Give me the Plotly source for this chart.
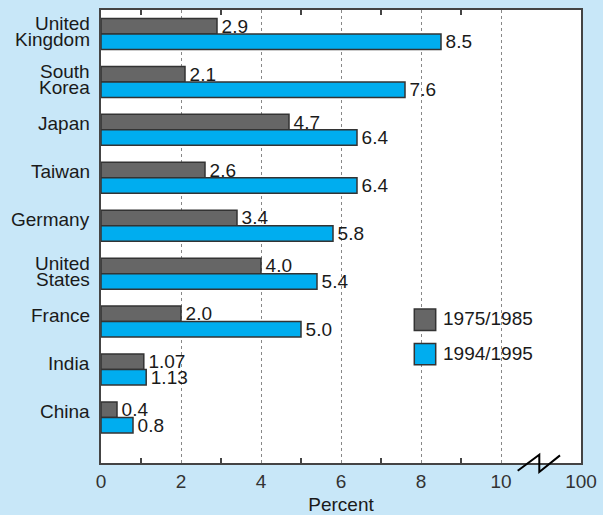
import plotly.graph_objects as go

countries = ["United<br>Kingdom", "South<br>Korea", "Japan", "Taiwan", "Germany",
             "United<br>States", "France", "India", "China"]
period_1975_1985 = [2.9, 2.1, 4.7, 2.6, 3.4, 4.0, 2.0, 1.07, 0.4]
period_1994_1995 = [8.5, 7.6, 6.4, 6.4, 5.8, 5.4, 5.0, 1.13, 0.8]
series_names = ["1975/1985", "1994/1995"]
x_tick_vals = [0, 2, 4, 6, 8, 10, 12]
x_tick_text = ["0", "2", "4", "6", "8", "10", "100"]

FONT = "Liberation Sans, Arial, Helvetica, sans-serif"
FS = 19
TXT = "#1a1a1a"
GRAY = "#666666"
BLUE = "#00adef"
EDGE = "#333333"
BG = "#c8e7f8"


def fmt(v):
    s = f"{v:.1f}" if round(v, 1) == v else f"{v:.2f}"
    return "\u200a" + s


pos = list(range(len(countries)))

fig = go.Figure()
for name, vals, col in [(series_names[0], period_1975_1985, GRAY),
                        (series_names[1], period_1994_1995, BLUE)]:
    fig.add_trace(go.Bar(
        y=pos, x=vals, orientation="h", name=name,
        marker=dict(color=col, line=dict(color=EDGE, width=1.5)),
        text=[fmt(v) for v in vals], textposition="outside",
        constraintext="none", cliponaxis=False,
        textfont=dict(family=FONT, size=FS, color=TXT),
        showlegend=False, hoverinfo="skip",
    ))

annotations = []
# category labels (two-line labels split into individual lines for tight spacing)
for i, lab in enumerate(countries):
    lines = lab.split("<br>")
    if len(lines) == 1:
        shifts = [6]
    else:
        shifts = [10, -6]
    for ln, sh in zip(lines, shifts):
        annotations.append(dict(
            x=0, xref="paper", xanchor="right", xshift=-9,
            y=i, yref="y", yanchor="middle", yshift=sh,
            text=ln, showarrow=False,
            font=dict(family=FONT, size=FS, color=TXT)))

# legend
L = 101.0
T = 10.0
W = 480.0
H = 453.3


def px(x):
    return (x - L) / W


def py(y):
    return (T + H - y) / H


shapes = []
for (name, col, top, bot, ty) in [(series_names[0], GRAY, 309.3, 330.7, 319),
                                 (series_names[1], BLUE, 343.7, 365.0, 353.5)]:
    shapes.append(dict(type="rect", xref="paper", yref="paper",
                       x0=px(414.3), x1=px(435.7), y0=py(bot), y1=py(top),
                       fillcolor=col, line=dict(color=EDGE, width=1.5), layer="above"))
    annotations.append(dict(x=px(440.5), xref="paper", xanchor="left",
                            y=py(ty), yref="paper", yanchor="middle",
                            text=name, showarrow=False,
                            font=dict(family=FONT, size=FS, color=TXT)))

# axis break symbol
pts = [(517.7, 471.0), (539.3, 455.0), (539.3, 472.3), (560.0, 455.7)]
path = "M " + " L ".join(f"{px(a):.5f},{py(b):.5f}" for a, b in pts)
shapes.append(dict(type="path", xref="paper", yref="paper", path=path,
                   line=dict(color="#000000", width=2), layer="above"))

fig.update_layout(
    width=603, height=515,
    margin=dict(l=101, r=22, t=10, b=52, autoexpand=False),
    paper_bgcolor=BG, plot_bgcolor="white",
    barmode="group", bargap=0.354, bargroupgap=0,
    font=dict(family=FONT, size=FS, color=TXT),
    annotations=annotations, shapes=shapes,
    showlegend=False,
    xaxis=dict(
        range=[0, 12], tickmode="array", tickvals=x_tick_vals, ticktext=x_tick_text,
        ticks="", showgrid=True, gridcolor="#888888", griddash="dot", gridwidth=1,
        zeroline=False, showline=True, linecolor="#444444", linewidth=2, mirror="ticks",
        tickfont=dict(family=FONT, size=FS, color="#333333"),
        ticklabelstandoff=0, automargin=False,
        minor=dict(tickvals=[1, 3, 5, 7, 9], ticks="inside", ticklen=5,
                   tickcolor="#444444", tickwidth=1.5, showgrid=False),
        title=dict(text="Percent", font=dict(family=FONT, size=FS, color=TXT), standoff=12),
        fixedrange=True,
    ),
    yaxis=dict(
        range=[8.95, -0.5], showticklabels=False, ticks="", showgrid=False,
        zeroline=False, showline=True, linecolor="#444444", linewidth=2, mirror=True,
        fixedrange=True, automargin=False,
    ),
)

fig.write_html(
    "out.html",
    config={"displayModeBar": False},
    post_script="document.body.style.margin='0';document.body.style.overflow='hidden';",
)
